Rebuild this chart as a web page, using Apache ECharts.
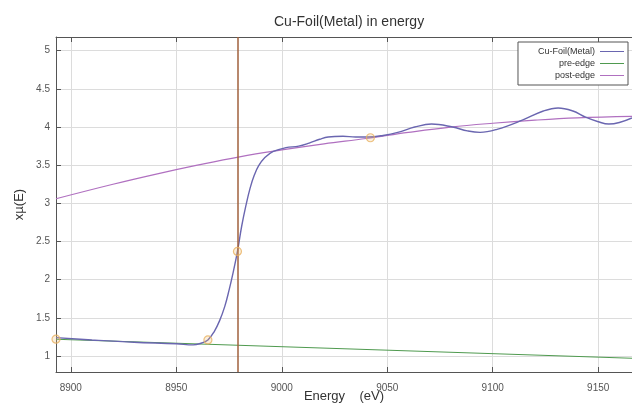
<!DOCTYPE html>
<html>
  <head>
    <meta charset="utf-8" />
    <title>Cu-Foil(Metal) in energy</title>
    <script src="https://cdn.jsdelivr.net/npm/echarts@6/dist/echarts.min.js"></script>
    <style>
      html, body { margin: 0; padding: 0; background: #fff; }
    </style>
  </head>
  <body>
    <div id="main" style="width: 632px; height: 403px"></div>
    <script type="text/javascript">
      // values
      var xTicks = [8900, 8950, 9000, 9050, 9100, 9150];
      var yTicks = [1, 1.5, 2, 2.5, 3, 3.5, 4, 4.5, 5];

      var cuFoil = [
        [8893, 1.24], [8910, 1.21], [8930, 1.18], [8950, 1.16], [8958, 1.145],
        [8962, 1.17], [8965, 1.21], [8968, 1.32], [8970.5, 1.46], [8973, 1.65],
        [8975, 1.86], [8977, 2.1], [8979, 2.37], [8981, 2.7], [8983, 2.97],
        [8985, 3.2], [8987, 3.37], [8989, 3.49], [8992, 3.6], [8996, 3.68],
        [9002, 3.73], [9008, 3.75], [9013, 3.79], [9018, 3.84], [9022, 3.87],
        [9029, 3.88], [9035, 3.87], [9041, 3.87], [9048, 3.89], [9055, 3.93],
        [9063, 4.0], [9071, 4.04], [9081, 4.0], [9088, 3.95], [9094, 3.93],
        [9102, 3.97], [9114, 4.09], [9124, 4.21], [9131, 4.25], [9138, 4.21],
        [9144, 4.13], [9150, 4.07], [9155, 4.04], [9160, 4.06], [9166, 4.12]
      ];
      var preEdge = [[8893, 1.22], [9166, 0.97]];
      var postEdge = [
        [8893, 3.06], [8920, 3.25], [8940, 3.38], [8960, 3.5], [8980, 3.61],
        [9000, 3.7], [9020, 3.78], [9040, 3.85], [9060, 3.93], [9080, 4.0],
        [9100, 4.05], [9120, 4.09], [9140, 4.12], [9166, 4.14]
      ];
      var markers = [[8893, 1.22], [8965, 1.21], [8979, 2.37], [9042, 3.86]];
      var e0 = 8979;

      var font = "Liberation Sans";
      var myChart = echarts.init(document.getElementById("main"), null, { renderer: "canvas" });

      var option = {
        animation: false,
        textStyle: { fontFamily: font },
        title: {
          text: "Cu-Foil(Metal) in energy",
          left: 269,
          top: 10,
          textStyle: { fontFamily: font, fontSize: 14, fontWeight: "normal", color: "#333" }
        },
        legend: {
          data: ["Cu-Foil(Metal)", "pre-edge", "post-edge"],
          orient: "vertical",
          align: "right",
          right: 4,
          top: 42,
          icon: "rect",
          itemWidth: 24,
          itemHeight: 1,
          itemGap: 3,
          padding: [5, 4, 5, 20],
          borderColor: "#555",
          borderWidth: 1,
          backgroundColor: "#fff",
          textStyle: { fontFamily: font, fontSize: 9, color: "#333" }
        },
        grid: { left: 56, right: 0, top: 37, bottom: 31, outerBoundsMode: "none" },
        xAxis: [
          {
            type: "value",
            min: 8893,
            max: 9166,
            name: "Energy    (eV)",
            nameLocation: "middle",
            nameGap: 18,
            nameMoveOverlap: false,
            nameTextStyle: { fontFamily: font, fontSize: 13, color: "#333" },
            axisLine: { lineStyle: { color: "#555" } },
            axisTick: { inside: true, length: 5, customValues: xTicks, lineStyle: { color: "#555" } },
            axisLabel: {
              customValues: xTicks,
              fontSize: 10,
              color: "#555",
              margin: 11,
              formatter: function (v) { return String(v); }
            },
            splitLine: { show: true, lineStyle: { color: "#dcdcdc" } }
          },
          {
            type: "value",
            position: "top",
            min: 8893,
            max: 9166,
            axisLine: { show: true, lineStyle: { color: "#555" } },
            axisTick: { inside: true, length: 5, customValues: xTicks, lineStyle: { color: "#555" } },
            axisLabel: { show: false },
            splitLine: { show: false }
          }
        ],
        yAxis: {
          type: "value",
          min: 0.79,
          max: 5.18,
          name: "xµ(E)",
          nameLocation: "middle",
          nameGap: 30,
          nameMoveOverlap: false,
          nameTextStyle: { fontFamily: font, fontSize: 13, color: "#333" },
          axisLine: { show: true, lineStyle: { color: "#555" } },
          axisTick: { show: true, inside: true, length: 5, customValues: yTicks, lineStyle: { color: "#555" } },
          axisLabel: { customValues: yTicks, fontSize: 10, color: "#555", margin: 6 },
          splitLine: { show: true, lineStyle: { color: "#dcdcdc" } }
        },
        series: [
          {
            name: "Cu-Foil(Metal)",
            type: "line",
            data: cuFoil,
            smooth: 0.4,
            showSymbol: false,
            lineStyle: { color: "#6a66b0", width: 1.4 },
            itemStyle: { color: "#6a66b0" },
            z: 4,
            markLine: {
              silent: true,
              symbol: "none",
              label: { show: false },
              lineStyle: { color: "#a0603c", width: 1.5, type: "solid" },
              data: [{ xAxis: e0 }]
            }
          },
          {
            name: "pre-edge",
            type: "line",
            data: preEdge,
            showSymbol: false,
            lineStyle: { color: "#4f9a4f", width: 1.1 },
            itemStyle: { color: "#4f9a4f" },
            z: 3
          },
          {
            name: "post-edge",
            type: "line",
            data: postEdge,
            smooth: 0.4,
            showSymbol: false,
            lineStyle: { color: "#b070c0", width: 1.2 },
            itemStyle: { color: "#b070c0" },
            z: 3
          },
          {
            name: "points",
            type: "scatter",
            data: markers,
            symbol: "circle",
            symbolSize: 8,
            itemStyle: { color: "rgba(240,190,110,0.3)", borderColor: "#e8b262", borderWidth: 1.2 },
            z: 5
          }
        ]
      };

      myChart.setOption(option);
    </script>
  </body>
</html>
